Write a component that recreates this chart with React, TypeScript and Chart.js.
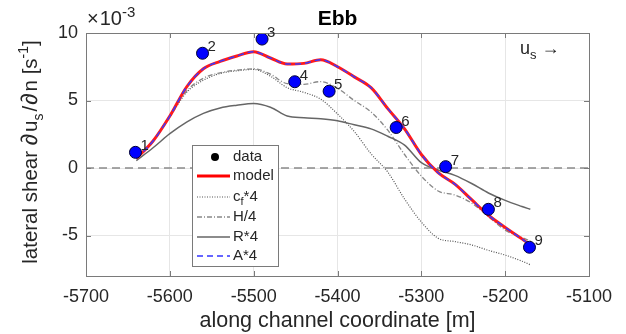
import React, { useEffect, useRef } from "react";
import { Chart, registerables } from "chart.js";

Chart.register(...registerables);

// ---- data ----
const xCoord = [
  -5640, -5620, -5600, -5580, -5560, -5540, -5520, -5500, -5480, -5460, -5440, -5420, -5400,
  -5380, -5360, -5340, -5320, -5300, -5280, -5260, -5240, -5220, -5200, -5180, -5170,
];
const modelY = [
  0.7, 2.0, 3.85, 6.0, 7.35, 7.9, 8.3, 8.62, 8.15, 7.7, 7.75, 8.02, 7.5,
  6.75, 5.95, 4.4, 2.9, 1.0, -0.35, -1.2, -2.35, -3.5, -4.4, -5.25, -5.7,
];
const aStarY = [
  0.7, 2.0, 3.85, 6.0, 7.35, 7.9, 8.3, 8.62, 8.15, 7.7, 7.75, 8.02, 7.5,
  6.75, 5.95, 4.4, 2.9, 1.0, -0.35, -1.2, -2.35, -3.5, -4.4, -5.25, -5.7,
];
const rStarY = [
  0.55, 1.5, 2.54, 3.4, 4.05, 4.45, 4.65, 4.78, 4.5, 3.85, 3.72, 3.65, 3.5,
  3.2, 2.9, 2.35, 1.7, 0.4, -0.15, -0.55, -1.15, -1.85, -2.4, -2.85, -3.06,
];
const cfStarY = [
  0.75, 2.0, 3.8, 5.6, 6.5, 7.0, 7.2, 7.3, 6.8, 5.95, 5.6, 5.1, 4.0,
  2.7, 1.05, -0.3, -2.3, -4.0, -5.2, -5.45, -5.7, -6.1, -6.45, -6.9, -7.17,
];
const hQuarterY = [
  0.75, 2.0, 3.85, 5.7, 6.65, 7.05, 7.25, 7.35, 6.95, 6.25, 6.2, 6.4, 5.9,
  5.0, 4.15, 2.8, 1.0, -0.6, -1.7, -2.0, -2.6, -3.6, -4.6, -5.15, -5.4,
];
const dataX = [-5641, -5561, -5490, -5451, -5410, -5330, -5271, -5220, -5171];
const dataY = [1.16, 8.5, 9.55, 6.39, 5.69, 3.0, 0.1, -3.06, -5.87];
const dataLabels = ["1", "2", "3", "4", "5", "6", "7", "8", "9"];
const xTicks = [-5700, -5600, -5500, -5400, -5300, -5200, -5100];
const yTicks = [-5, 0, 5, 10];
const zeroLineX = [-5700, -5100];
const zeroLineY = [0, 0];

const FONT = "'Liberation Sans', Arial, Helvetica, sans-serif";
const TXT = "#262626";

function pts(xs: number[], ys: number[]) {
  return xs.map((x, i) => ({ x, y: ys[i] }));
}

type Part = { t: string; k?: "sub" | "sup"; s?: number; g?: number };

function drawRich(
  ctx: CanvasRenderingContext2D,
  parts: Part[],
  x: number,
  y: number,
  size: number,
  align: "left" | "center",
  ratio = 0.7
) {
  const small = Math.round(size * ratio);
  const fontOf = (p: Part) => `${p.s ? p.s : p.k ? small : size}px ${FONT}`;
  let total = 0;
  parts.forEach((p) => {
    ctx.font = fontOf(p);
    total += ctx.measureText(p.t).width + (p.g || 0);
  });
  let cx = align === "center" ? x - total / 2 : x;
  parts.forEach((p) => {
    ctx.font = fontOf(p);
    const dy = p.k === "sub" ? size * 0.3 : p.k === "sup" ? -size * 0.42 : 0;
    ctx.fillText(p.t, cx, y + dy);
    cx += ctx.measureText(p.t).width + (p.g || 0);
  });
}

const decorPlugin = {
  id: "decor",
  afterDatasetsDraw(chart: any) {
    const ctx: CanvasRenderingContext2D = chart.ctx;
    const { left, right, top, bottom } = chart.chartArea;
    const xs = chart.scales.x;
    const ys = chart.scales.y;
    ctx.save();
    // box
    ctx.strokeStyle = "#7a7a7a";
    ctx.lineWidth = 1;
    ctx.setLineDash([]);
    ctx.strokeRect(left + 0.5, top + 0.5, right - left, bottom - top);
    // inward tick marks
    ctx.beginPath();
    xTicks.forEach((v) => {
      const px = Math.round(xs.getPixelForValue(v)) + 0.5;
      ctx.moveTo(px, bottom);
      ctx.lineTo(px, bottom - 5);
      ctx.moveTo(px, top);
      ctx.lineTo(px, top + 5);
    });
    yTicks.forEach((v) => {
      const py = Math.round(ys.getPixelForValue(v)) + 0.5;
      ctx.moveTo(left, py);
      ctx.lineTo(left + 5, py);
      ctx.moveTo(right, py);
      ctx.lineTo(right - 5, py);
    });
    ctx.stroke();

    // point labels
    const meta = chart.getDatasetMeta(0);
    ctx.fillStyle = TXT;
    ctx.font = `15px ${FONT}`;
    ctx.textBaseline = "alphabetic";
    ctx.textAlign = "left";
    meta.data.forEach((el: any, i: number) => {
      ctx.fillText(dataLabels[i], el.x + 5, el.y - 2);
    });

    // legend box
    const lx = 192, ly = 145, lw = 86, lh = 121;
    ctx.fillStyle = "#ffffff";
    ctx.fillRect(lx, ly, lw, lh);
    ctx.strokeStyle = "#7a7a7a";
    ctx.lineWidth = 1;
    ctx.strokeRect(lx + 0.5, ly + 0.5, lw, lh);
    const rows = [157, 176, 197, 217, 237, 256];
    const sx0 = 197, sx1 = 230, tx = 233;
    // data
    ctx.fillStyle = "#000";
    ctx.beginPath();
    ctx.arc(215, rows[0], 4, 0, Math.PI * 2);
    ctx.fill();
    const seg = (y: number, color: string, w: number, dash: number[]) => {
      ctx.strokeStyle = color;
      ctx.lineWidth = w;
      ctx.setLineDash(dash);
      ctx.beginPath();
      ctx.moveTo(sx0, y);
      ctx.lineTo(sx1, y);
      ctx.stroke();
    };
    seg(rows[1], "#ff0000", 3, []);
    seg(rows[2], "#555555", 1.2, [1, 1.5]);
    seg(rows[3], "#888888", 1.3, [5, 2, 1, 2]);
    seg(rows[4], "#666666", 1.5, []);
    seg(rows[5], "#3333ff", 1.5, [6, 4]);
    ctx.setLineDash([]);
    ctx.fillStyle = TXT;
    ctx.textBaseline = "middle";
    const ls = 15;
    drawRich(ctx, [{ t: "data" }], tx, rows[0], ls, "left");
    drawRich(ctx, [{ t: "model" }], tx, rows[1], ls, "left");
    drawRich(ctx, [{ t: "c" }, { t: "f", k: "sub" }, { t: "*4" }], tx, rows[2], ls, "left");
    drawRich(ctx, [{ t: "H/4" }], tx, rows[3], ls, "left");
    drawRich(ctx, [{ t: "R*4" }], tx, rows[4], ls, "left");
    drawRich(ctx, [{ t: "A*4" }], tx, rows[5], ls, "left");

    ctx.textBaseline = "alphabetic";
    // title
    ctx.font = `bold 21px ${FONT}`;
    ctx.textAlign = "center";
    ctx.fillStyle = "#000";
    ctx.fillText("Ebb", (left + right) / 2, 25);
    ctx.textAlign = "left";
    ctx.fillStyle = TXT;
    // exponent
    drawRich(ctx, [{ t: "×", g: 1 }, { t: "10" }, { t: "-3", k: "sup" }], 87, 25, 20, "left", 0.75);
    // u_s arrow
    drawRich(ctx, [{ t: "u" }, { t: "s", k: "sub" }, { t: " →" }], 520, 54, 18, "left");
    // x title
    drawRich(ctx, [{ t: "along channel coordinate [m]" }], (left + right) / 2, 327, 21.5, "center");
    // y title
    ctx.save();
    ctx.translate(37, 152);
    ctx.rotate(-Math.PI / 2);
    drawRich(
      ctx,
      [
        { t: "lateral shear " },
        { t: "∂", s: 23, g: 2 },
        { t: "u" },
        { t: "s", k: "sub", g: 2 },
        { t: "/", g: 1 },
        { t: "∂", s: 23, g: 2 },
        { t: "n" },
        { t: " [s" },
        { t: "-1", k: "sup" },
        { t: "]" },
      ],
      0,
      0,
      20.5,
      "center"
    );
    ctx.restore();
    ctx.restore();
  },
};

export default function App() {
  const ref = useRef<HTMLCanvasElement | null>(null);
  useEffect(() => {
    document.body.style.margin = "0";
    const canvas = ref.current!;
    const chart = new Chart(canvas, {
      type: "scatter",
      data: {
        datasets: [
          {
            label: "data",
            data: pts(dataX, dataY),
            showLine: false,
            pointRadius: 6,
            pointBackgroundColor: "#0000ff",
            pointBorderColor: "#000033",
            pointBorderWidth: 1,
          },
          {
            label: "A*4",
            data: pts(xCoord, aStarY),
            showLine: true,
            pointRadius: 0,
            borderColor: "#3a3aff",
            borderWidth: 1.5,
            borderDash: [6, 4],
            cubicInterpolationMode: "monotone",
          },
          {
            label: "model",
            data: pts(xCoord, modelY),
            showLine: true,
            pointRadius: 0,
            borderColor: "#ff1a1a",
            borderWidth: 3,
            cubicInterpolationMode: "monotone",
          },
          {
            label: "R*4",
            data: pts(xCoord, rStarY),
            showLine: true,
            pointRadius: 0,
            borderColor: "#666666",
            borderWidth: 1.5,
            cubicInterpolationMode: "monotone",
          },
          {
            label: "H/4",
            data: pts(xCoord, hQuarterY),
            showLine: true,
            pointRadius: 0,
            borderColor: "#888888",
            borderWidth: 1.3,
            borderDash: [5, 2, 1, 2],
            cubicInterpolationMode: "monotone",
          },
          {
            label: "cf*4",
            data: pts(xCoord, cfStarY),
            showLine: true,
            pointRadius: 0,
            borderColor: "#555555",
            borderWidth: 1.2,
            borderDash: [1, 1.5],
            cubicInterpolationMode: "monotone",
          },
          {
            label: "zero",
            data: pts(zeroLineX, zeroLineY),
            showLine: true,
            pointRadius: 0,
            borderColor: "#8a8a8a",
            borderWidth: 1.5,
            borderDash: [8, 5],
          },
        ],
      },
      options: {
        animation: false,
        responsive: false,
        devicePixelRatio: 1,
        layout: { padding: { top: 33, right: 37, left: 0, bottom: 0 } },
        plugins: { legend: { display: false }, tooltip: { enabled: false } },
        scales: {
          x: {
            type: "linear",
            min: -5700,
            max: -5100,
            afterBuildTicks: (s: any) => {
              s.ticks = xTicks.map((v) => ({ value: v }));
            },
            afterFit: (s: any) => {
              s.height = 58;
            },
            grid: { color: "#e6e6e6", drawTicks: false },
            border: { display: false },
            ticks: {
              padding: 10,
              color: TXT,
              font: { family: FONT, size: 18 },
              callback: (v: any) => String(v),
            },
          },
          y: {
            type: "linear",
            min: -8,
            max: 10,
            afterBuildTicks: (s: any) => {
              s.ticks = yTicks.map((v) => ({ value: v }));
            },
            afterFit: (s: any) => {
              s.width = 86;
            },
            grid: { color: "#e6e6e6", drawTicks: false },
            border: { display: false },
            ticks: {
              padding: 8,
              color: TXT,
              font: { family: FONT, size: 18 },
              callback: (v: any) => String(v),
            },
          },
        },
      },
      plugins: [decorPlugin],
    } as any);
    return () => chart.destroy();
  }, []);
  return <canvas ref={ref} width={626} height={334} style={{ display: "block" }} />;
}
